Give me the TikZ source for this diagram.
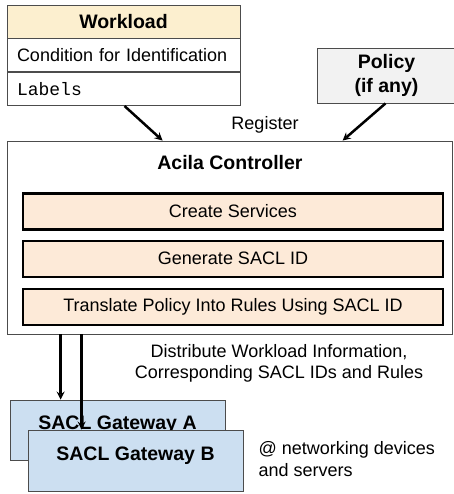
\documentclass[tikz,border=0pt]{standalone}
\usepackage{fontspec}
\setmainfont{Liberation Sans}
\setmonofont{Liberation Mono}
\usetikzlibrary{calc,arrows,positioning}

\definecolor{wlfill}{HTML}{FCEFCF}
\definecolor{stepfill}{HTML}{FDEAD8}
\definecolor{gwfill}{HTML}{CCDFF1}
\definecolor{polfill}{HTML}{F2F2F2}

\begin{document}
\begin{tikzpicture}[x=1pt, y=-1pt]

\tikzset{
txt/.style={font=\fontsize{18}{21}\selectfont},
btxt/.style={font=\fontsize{19.5}{24}\selectfont\bfseries},
box/.style={txt,draw=black!70,line width=0.8pt,inner sep=0pt},
wlrow/.style={box,fill=white,minimum width=233,minimum height=33,text width=213,align=left},
stepbox/.style={box,draw=black,line width=2.2pt,fill=stepfill,minimum width=420,minimum height=36},
gwbox/.style={box,fill=gwfill,minimum width=215,minimum height=60},
regarrow/.style={->,>=stealth,line width=2.5pt},
distarrow/.style={->,>=stealth,line width=2.5pt}
}

\useasboundingbox (0,0) rectangle (453,494);

% Workload and policy
\node[wlrow,fill=wlfill,align=center,btxt] (wlhead) at (123.5,21.5) {Workload};
\node[wlrow,below=0pt of wlhead] (wlcond) {Condition for Identification};
\node[wlrow,below=0pt of wlcond] (wllab) {\texttt{Labels}};

\node[box,btxt,fill=polfill,minimum width=139,minimum height=55,align=center] (policy) at (386.5,75.5) {Policy\\(if any)};

% Controller
\node[box,minimum width=445,minimum height=193] (ctrl) at (229.5,237.5) {};
\node[btxt] (ctrltitle) at (230,163) {Acila Controller};

\node[stepbox] (step1) at (233,211.5) {Create Services};
\node[stepbox,below=9pt of step1] (step2) {Generate SACL ID};
\node[stepbox,below=10pt of step2] (step3) {Translate Policy Into Rules Using SACL ID};

% Register arrows
\coordinate (regA) at ($(ctrl.north west)+(156,0)$);
\coordinate (regB) at ($(ctrl.north west)+(336,0)$);
\draw[regarrow] ($(wllab.south)+(1,0)$) -- (regA);
\draw[regarrow] ($(policy.south)+(-1,0)$) -- (regB);

% Gateways
\node[gwbox] (gwA) at (117.5,430) {};
\node[btxt] (gwAlab) at ($(gwA.center)+(0,-5)$) {SACL Gateway A};

\draw[distarrow] ($(ctrl.south west)+(54,0)$) -- ($(gwA.north west)+(51,0)$);
\draw[distarrow] ($(ctrl.south west)+(75,0)$) -- ($(gwA.north west)+(72,30)$);

\node[gwbox,minimum height=61] (gwB) at (135.5,460.5) {};
\node[btxt] (gwBlab) at ($(gwB.center)+(0,-5)$) {SACL Gateway B};

% Labels
\node[txt] (reglab) at (265,125) {Register};
\node[txt,align=center] (distlab) at (279,363) {Distribute Workload Information,\\Corresponding SACL IDs and Rules};
\node[txt,align=left,anchor=west,font=\fontsize{18}{22}\selectfont] (devlab) at (255,459) {@ networking devices\\and servers};

\end{tikzpicture}
\end{document}
